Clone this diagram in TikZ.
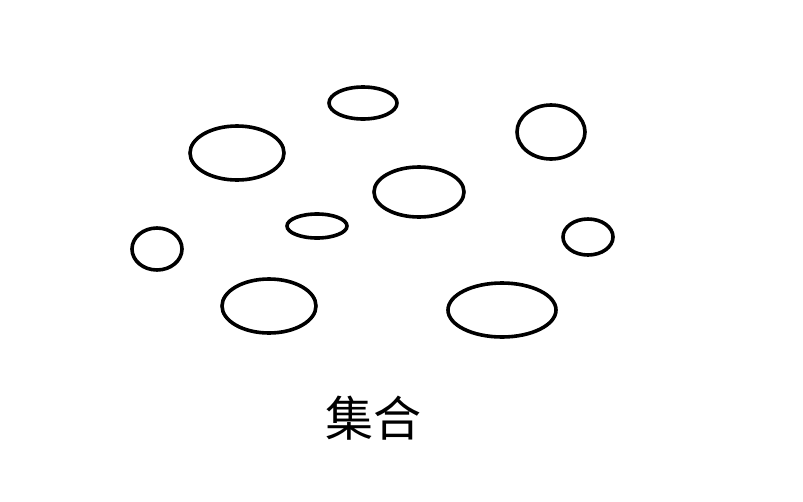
\documentclass[tikz,border=0pt]{standalone}
\usepackage{fontspec}
\newfontfamily\cjk{Noto Sans CJK SC}
\usetikzlibrary{shapes.geometric}

\begin{document}
\begin{tikzpicture}[
  x=1pt, y=-1pt,
  elem/.style={draw=black, line width=3.6pt, ellipse, inner sep=0pt},
  lbl/.style={font=\cjk\fontsize{48}{52}\selectfont, text=black}
]
  \useasboundingbox (0,0) rectangle (803,501);
  \node[elem, minimum width=68pt, minimum height=32pt] (e1) at (363,103) {};
  \node[elem, minimum width=94pt, minimum height=54pt] (e2) at (237,153) {};
  \node[elem, minimum width=68pt, minimum height=54pt] (e3) at (551,132) {};
  \node[elem, minimum width=90pt, minimum height=50pt] (e4) at (419,192) {};
  \node[elem, minimum width=60pt, minimum height=24pt] (e5) at (317,226) {};
  \node[elem, minimum width=50pt, minimum height=42pt] (e6) at (157,249) {};
  \node[elem, minimum width=50pt, minimum height=36pt] (e7) at (588,237) {};
  \node[elem, minimum width=94pt, minimum height=54pt] (e8) at (269,306) {};
  \node[elem, minimum width=108pt, minimum height=54pt] (e9) at (502,310) {};
  \node[lbl] (set) at (373,418) {集合};
\end{tikzpicture}
\end{document}
